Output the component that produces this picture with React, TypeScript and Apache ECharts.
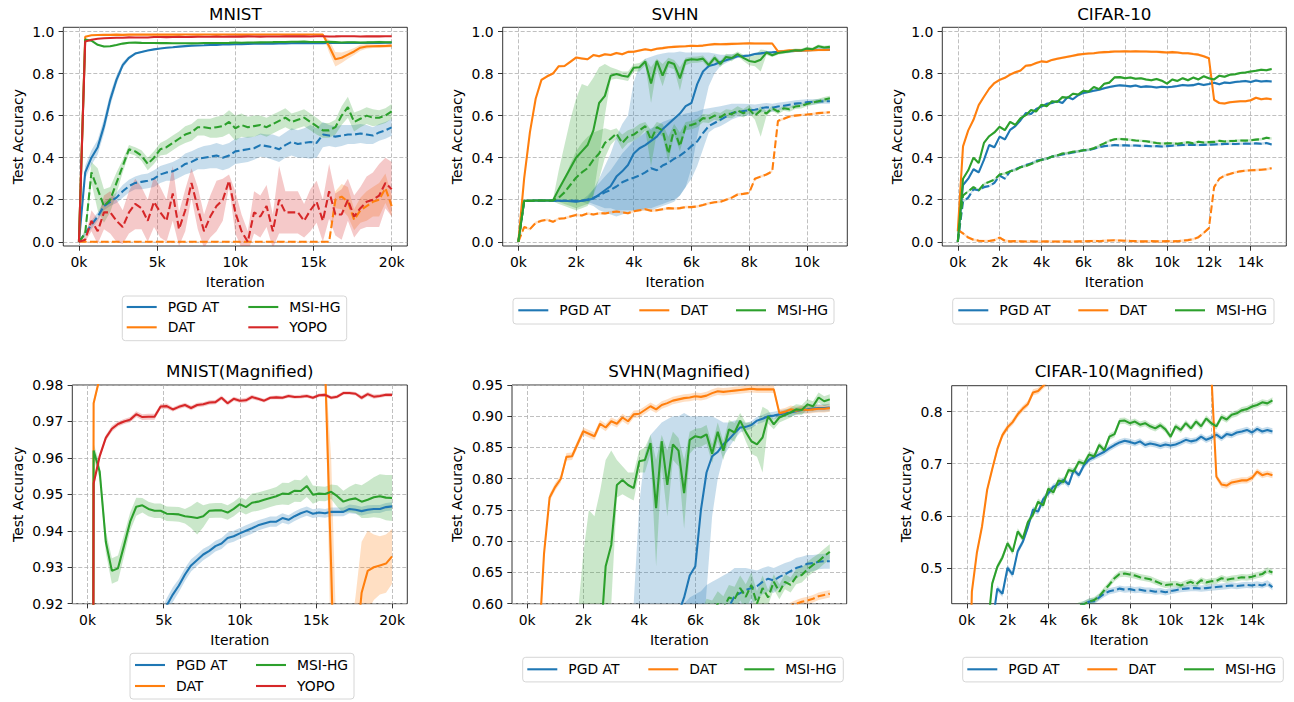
import React, { useEffect, useRef } from 'react';
import * as echarts from 'echarts';

const FONT = 'DejaVu Sans';
const COLORS: Record<string, string> = { pgd: '#1f77b4', dat: '#ff7f0e', msi: '#2ca02c', yopo: '#d62728' };
const METHOD_NAMES: Record<string, string> = { pgd: 'PGD AT', dat: 'DAT', msi: 'MSI-HG', yopo: 'YOPO' };

// ---------------- MNIST (evaluated every 400 iterations) ----------------
const MNIST_ITER = Array.from({ length: 51 }, (_, i) => i * 400);
const MNIST_PGD = [0, 0.33, 0.40, 0.45, 0.55, 0.675, 0.77, 0.84, 0.875, 0.895,
  0.903, 0.91, 0.915, 0.9195, 0.9225, 0.925, 0.928, 0.9305, 0.932, 0.9335,
  0.9345, 0.9358, 0.9365, 0.938, 0.9385, 0.9393, 0.94, 0.9407, 0.9415, 0.942,
  0.9425, 0.9425, 0.9435, 0.943, 0.944, 0.9448, 0.9454, 0.9447, 0.945, 0.9448,
  0.9452, 0.9452, 0.9452, 0.946, 0.9458, 0.9454, 0.9458, 0.946, 0.946, 0.9465,
  0.9467];
const MNIST_PGD_SD = [0, 0.03, 0.035, 0.035, 0.035, 0.03, 0.022, 0.014, 0.008, 0.005,
  0.004, 0.003, 0.0025, 0.002, 0.002, 0.0018, 0.0018, 0.0017, 0.0016, 0.0016,
  0.0015, 0.0015, 0.0015, 0.0015, 0.0015, 0.0015, 0.0015, 0.0015, 0.0014, 0.0014,
  0.0014, 0.0014, 0.0013, 0.0013, 0.0013, 0.0013, 0.0013, 0.0012, 0.0012, 0.0012,
  0.0012, 0.0012, 0.0012, 0.0012, 0.0012, 0.0012, 0.0012, 0.0011, 0.0011, 0.0011,
  0.0011];
const MNIST_PGD_ADV = [0, 0.04, 0.08, 0.12, 0.17, 0.19, 0.21, 0.24, 0.265, 0.28,
  0.285, 0.29, 0.30, 0.32, 0.33, 0.335, 0.35, 0.37, 0.38, 0.395,
  0.40, 0.405, 0.41, 0.40, 0.41, 0.43, 0.435, 0.44, 0.445, 0.46,
  0.455, 0.45, 0.44, 0.46, 0.475, 0.465, 0.47, 0.475, 0.47, 0.51,
  0.505, 0.50, 0.505, 0.51, 0.51, 0.515, 0.51, 0.505, 0.52, 0.53,
  0.544];
const MNIST_PGD_ADV_SD = [0, 0.01, 0.02, 0.02, 0.02, 0.02, 0.025, 0.03, 0.03, 0.03,
  0.035, 0.035, 0.04, 0.04, 0.04, 0.045, 0.045, 0.05, 0.05, 0.05,
  0.055, 0.055, 0.06, 0.06, 0.06, 0.06, 0.06, 0.06, 0.055, 0.055,
  0.055, 0.06, 0.06, 0.06, 0.065, 0.065, 0.07, 0.08, 0.07, 0.06,
  0.05, 0.05, 0.05, 0.045, 0.045, 0.045, 0.045, 0.04, 0.04, 0.04,
  0.04];
const MNIST_DAT = [0, 0.975, 0.982, 0.983, 0.984, 0.984, 0.985, 0.984, 0.985, 0.985,
  0.985, 0.986, 0.985, 0.985, 0.986, 0.985, 0.985, 0.986, 0.986, 0.985,
  0.986, 0.986, 0.985, 0.986, 0.986, 0.986, 0.985, 0.986, 0.986, 0.986,
  0.986, 0.986, 0.986, 0.986, 0.986, 0.986, 0.986, 0.986, 0.986, 0.985,
  0.93, 0.868, 0.875, 0.89, 0.905, 0.923, 0.929, 0.93, 0.9305, 0.931,
  0.933];
const MNIST_DAT_SD = [0, 0.001, 0.001, 0.001, 0.001, 0.001, 0.001, 0.001, 0.001, 0.001,
  0.001, 0.001, 0.001, 0.001, 0.001, 0.001, 0.001, 0.001, 0.001, 0.001,
  0.001, 0.001, 0.001, 0.001, 0.001, 0.001, 0.001, 0.001, 0.001, 0.001,
  0.001, 0.001, 0.001, 0.001, 0.001, 0.001, 0.001, 0.001, 0.001, 0.001,
  0.03, 0.035, 0.025, 0.02, 0.017, 0.014, 0.011, 0.009, 0.008, 0.008,
  0.0075];
const MNIST_DAT_ADV = [0, 0, 0, 0, 0, 0, 0, 0, 0, 0,
  0, 0, 0, 0, 0, 0, 0, 0, 0, 0,
  0, 0, 0, 0, 0, 0, 0, 0, 0, 0,
  0, 0, 0, 0, 0, 0, 0, 0, 0, 0,
  0, 0.20, 0.215, 0.19, 0.105, 0.15, 0.17, 0.19, 0.20, 0.255,
  0.17];
const MNIST_DAT_ADV_SD = [0, 0.002, 0.002, 0.002, 0.002, 0.002, 0.002, 0.002, 0.002, 0.002,
  0.002, 0.002, 0.002, 0.002, 0.002, 0.002, 0.002, 0.002, 0.002, 0.002,
  0.002, 0.002, 0.002, 0.002, 0.002, 0.002, 0.002, 0.002, 0.002, 0.002,
  0.002, 0.002, 0.002, 0.002, 0.002, 0.002, 0.002, 0.002, 0.002, 0.002,
  0.002, 0.04, 0.06, 0.07, 0.05, 0.06, 0.07, 0.07, 0.08, 0.07,
  0.05];
const MNIST_MSI = [0, 0.962, 0.9562, 0.937, 0.929, 0.9297, 0.936, 0.9425, 0.9466, 0.947,
  0.946, 0.9455, 0.9455, 0.9447, 0.9446, 0.9445, 0.944, 0.9438, 0.9435, 0.944,
  0.9455, 0.9456, 0.9456, 0.945, 0.946, 0.9473, 0.9465, 0.9477, 0.948, 0.9485,
  0.949, 0.9495, 0.9502, 0.9501, 0.951, 0.9509, 0.9523, 0.9499, 0.9502, 0.9501,
  0.9507, 0.9495, 0.948, 0.9486, 0.9489, 0.948, 0.9485, 0.9492, 0.9495, 0.9491,
  0.949];
const MNIST_MSI_SD = [0, 0.002, 0.002, 0.003, 0.0035, 0.0035, 0.003, 0.0025, 0.0025, 0.002,
  0.002, 0.002, 0.002, 0.002, 0.002, 0.002, 0.002, 0.003, 0.0045, 0.003,
  0.002, 0.002, 0.002, 0.002, 0.002, 0.002, 0.002, 0.0025, 0.0025, 0.0025,
  0.0025, 0.0025, 0.003, 0.003, 0.003, 0.003, 0.003, 0.0025, 0.002, 0.002,
  0.002, 0.003, 0.003, 0.0035, 0.004, 0.0045, 0.005, 0.0055, 0.006, 0.0062,
  0.0063];
const MNIST_MSI_ADV = [0, 0.04, 0.33, 0.25, 0.17, 0.20, 0.28, 0.36, 0.44, 0.43,
  0.41, 0.37, 0.40, 0.44, 0.45, 0.47, 0.49, 0.51, 0.52, 0.545,
  0.545, 0.54, 0.545, 0.55, 0.57, 0.54, 0.555, 0.545, 0.55, 0.555,
  0.545, 0.56, 0.575, 0.59, 0.57, 0.58, 0.59, 0.57, 0.55, 0.53,
  0.53, 0.545, 0.60, 0.64, 0.57, 0.585, 0.60, 0.59, 0.59, 0.60,
  0.62];
const MNIST_MSI_ADV_SD = [0, 0.02, 0.05, 0.1, 0.08, 0.06, 0.05, 0.03, 0.02, 0.02,
  0.025, 0.03, 0.03, 0.03, 0.035, 0.035, 0.035, 0.04, 0.04, 0.04,
  0.04, 0.045, 0.05, 0.05, 0.055, 0.06, 0.055, 0.05, 0.05, 0.045,
  0.045, 0.045, 0.045, 0.045, 0.04, 0.04, 0.04, 0.04, 0.04, 0.035,
  0.035, 0.035, 0.045, 0.05, 0.045, 0.04, 0.04, 0.04, 0.035, 0.035,
  0.035];
const MNIST_YOPO = [0, 0.953, 0.9605, 0.9655, 0.968, 0.9693, 0.970, 0.9705, 0.972, 0.9712,
  0.9713, 0.9713, 0.9741, 0.9742, 0.9733, 0.974, 0.9745, 0.9737, 0.9745, 0.9747,
  0.9752, 0.9753, 0.9765, 0.975, 0.9762, 0.9757, 0.9758, 0.9767, 0.9762, 0.9757,
  0.9765, 0.9766, 0.9765, 0.977, 0.9767, 0.9768, 0.977, 0.9765, 0.9772, 0.9773,
  0.9765, 0.9768, 0.9778, 0.9778, 0.9776, 0.9765, 0.9775, 0.9768, 0.977, 0.9773,
  0.9773];
const MNIST_YOPO_SD = [0, 0.0012, 0.0009, 0.0008, 0.0008, 0.0007, 0.0007, 0.0007, 0.0008, 0.0008,
  0.0008, 0.0008, 0.0007, 0.0007, 0.0006, 0.0006, 0.0006, 0.0006, 0.0006, 0.0006,
  0.0006, 0.0006, 0.0006, 0.0006, 0.0006, 0.0006, 0.0006, 0.0006, 0.0005, 0.0005,
  0.0005, 0.0005, 0.0005, 0.0005, 0.0005, 0.0005, 0.0005, 0.0005, 0.0005, 0.0005,
  0.0005, 0.0005, 0.0005, 0.0005, 0.0005, 0.0006, 0.0006, 0.0006, 0.0005, 0.0005,
  0.0005];
const MNIST_YOPO_ADV = [0, 0.01, 0.10, 0.05, 0.14, 0.14, 0.10, 0.07, 0.14, 0.18,
  0.16, 0.10, 0.19, 0.14, 0.10, 0.23, 0.06, 0.15, 0.28, 0.16,
  0.05, 0.12, 0.17, 0.20, 0.29, 0.14, 0.05, 0.0, 0.14, 0.12,
  0.17, 0.05, 0.20, 0.14, 0.14, 0.14, 0.10, 0.15, 0.19, 0.10,
  0.24, 0.13, 0.13, 0.20, 0.12, 0.16, 0.19, 0.20, 0.22, 0.28,
  0.25];
const MNIST_YOPO_ADV_SD = [0, 0.01, 0.05, 0.06, 0.08, 0.1, 0.1, 0.08, 0.1, 0.12,
  0.1, 0.1, 0.12, 0.12, 0.1, 0.13, 0.08, 0.1, 0.07, 0.1,
  0.08, 0.1, 0.12, 0.1, 0.03, 0.1, 0.08, 0.05, 0.1, 0.1,
  0.1, 0.08, 0.16, 0.1, 0.1, 0.1, 0.08, 0.1, 0.1, 0.1,
  0.13, 0.1, 0.12, 0.1, 0.1, 0.1, 0.12, 0.13, 0.15, 0.12,
  0.13];

// ---------------- SVHN (evaluated every 200 iterations) ----------------
const SVHN_ITER = Array.from({ length: 55 }, (_, i) => i * 200);
const SVHN_PGD = [0, 0.195, 0.195, 0.196, 0.196, 0.196, 0.196, 0.195, 0.195, 0.193,
  0.19, 0.195, 0.20, 0.205, 0.225, 0.245, 0.265, 0.31, 0.335, 0.365,
  0.42, 0.445, 0.46, 0.48, 0.50, 0.535, 0.56, 0.585, 0.61, 0.645,
  0.66, 0.75, 0.81, 0.836, 0.843, 0.855, 0.863, 0.873, 0.882, 0.883,
  0.886, 0.893, 0.896, 0.90, 0.901, 0.903, 0.905, 0.906, 0.908, 0.91,
  0.911, 0.9125, 0.913, 0.913, 0.914];
const SVHN_PGD_DN = [0, 0.004, 0.004, 0.004, 0.004, 0.004, 0.004, 0.004, 0.004, 0.004,
  0.004, 0.004, 0.02, 0.035, 0.075, 0.105, 0.135, 0.19, 0.205, 0.225,
  0.27, 0.295, 0.31, 0.33, 0.34, 0.365, 0.38, 0.395, 0.39, 0.385,
  0.31, 0.25, 0.19, 0.096, 0.043, 0.02, 0.013, 0.01, 0.008, 0.006,
  0.006, 0.006, 0.006, 0.006, 0.006, 0.006, 0.006, 0.006, 0.006, 0.006,
  0.006, 0.006, 0.006, 0.006, 0.006];
const SVHN_PGD_UP = [0, 0.004, 0.004, 0.004, 0.004, 0.004, 0.004, 0.004, 0.004, 0.004,
  0.004, 0.004, 0.02, 0.045, 0.075, 0.115, 0.155, 0.19, 0.225, 0.235,
  0.34, 0.395, 0.41, 0.40, 0.39, 0.36, 0.34, 0.315, 0.295, 0.255,
  0.24, 0.15, 0.09, 0.064, 0.052, 0.035, 0.027, 0.02, 0.012, 0.006,
  0.006, 0.006, 0.006, 0.006, 0.006, 0.006, 0.006, 0.006, 0.006, 0.006,
  0.006, 0.006, 0.006, 0.006, 0.006];
const SVHN_PGD_ADV = [0, 0.195, 0.194, 0.195, 0.196, 0.195, 0.195, 0.194, 0.195, 0.196,
  0.195, 0.195, 0.20, 0.21, 0.22, 0.235, 0.247, 0.263, 0.283, 0.295,
  0.305, 0.315, 0.33, 0.35, 0.34, 0.363, 0.375, 0.395, 0.41, 0.43,
  0.455, 0.477, 0.517, 0.55, 0.565, 0.58, 0.595, 0.612, 0.617, 0.622,
  0.625, 0.628, 0.635, 0.64, 0.637, 0.643, 0.647, 0.652, 0.657, 0.66,
  0.664, 0.665, 0.667, 0.668, 0.668];
const SVHN_PGD_ADV_DN = [0, 0.004, 0.004, 0.004, 0.004, 0.004, 0.004, 0.004, 0.004, 0.004,
  0.004, 0.004, 0.01, 0.03, 0.05, 0.075, 0.087, 0.113, 0.133, 0.145,
  0.155, 0.165, 0.17, 0.19, 0.17, 0.183, 0.185, 0.195, 0.19, 0.17,
  0.155, 0.117, 0.077, 0.03, 0.025, 0.03, 0.03, 0.03, 0.025, 0.025,
  0.025, 0.022, 0.02, 0.02, 0.02, 0.018, 0.018, 0.016, 0.016, 0.015,
  0.014, 0.013, 0.012, 0.012, 0.012];
const SVHN_PGD_ADV_UP = [0, 0.004, 0.004, 0.004, 0.004, 0.004, 0.004, 0.004, 0.004, 0.004,
  0.004, 0.004, 0.01, 0.04, 0.06, 0.075, 0.093, 0.117, 0.137, 0.155,
  0.175, 0.185, 0.19, 0.19, 0.21, 0.207, 0.205, 0.195, 0.19, 0.18,
  0.16, 0.143, 0.113, 0.085, 0.075, 0.065, 0.055, 0.045, 0.04, 0.035,
  0.03, 0.025, 0.022, 0.02, 0.02, 0.018, 0.018, 0.016, 0.016, 0.015,
  0.014, 0.013, 0.012, 0.012, 0.012];
const SVHN_DAT = [0, 0.30, 0.52, 0.68, 0.77, 0.787, 0.80, 0.835, 0.836, 0.856,
  0.876, 0.872, 0.868, 0.888, 0.882, 0.892, 0.888, 0.898, 0.892, 0.903,
  0.904, 0.91, 0.916, 0.911, 0.918, 0.921, 0.925, 0.927, 0.929, 0.93,
  0.932, 0.931, 0.933, 0.937, 0.94, 0.939, 0.94, 0.941, 0.942, 0.943,
  0.944, 0.943, 0.943, 0.943, 0.943, 0.905, 0.907, 0.911, 0.909, 0.911,
  0.91, 0.911, 0.912, 0.912, 0.913];
const SVHN_DAT_ADV = [0, 0.07, 0.06, 0.09, 0.10, 0.105, 0.095, 0.11, 0.112, 0.12,
  0.128, 0.125, 0.135, 0.13, 0.136, 0.135, 0.14, 0.144, 0.14, 0.136,
  0.145, 0.15, 0.155, 0.148, 0.15, 0.155, 0.16, 0.158, 0.16, 0.165,
  0.165, 0.168, 0.175, 0.183, 0.188, 0.19, 0.20, 0.21, 0.225, 0.228,
  0.232, 0.30, 0.31, 0.32, 0.335, 0.575, 0.585, 0.596, 0.60, 0.603,
  0.605, 0.608, 0.612, 0.614, 0.616];
const SVHN_DAT_BAND = 0.006;
const SVHN_MSI = [0, 0.195, 0.195, 0.196, 0.196, 0.196, 0.197, 0.25, 0.30, 0.35,
  0.40, 0.43, 0.46, 0.53, 0.66, 0.694, 0.79, 0.798, 0.79, 0.785,
  0.828, 0.83, 0.857, 0.753, 0.86, 0.79, 0.855, 0.845, 0.777, 0.862,
  0.868, 0.866, 0.871, 0.84, 0.875, 0.845, 0.879, 0.874, 0.893, 0.875,
  0.86, 0.855, 0.866, 0.90, 0.887, 0.898, 0.902, 0.906, 0.911, 0.91,
  0.919, 0.916, 0.93, 0.924, 0.927];
const SVHN_MSI_DN = [0, 0.004, 0.004, 0.004, 0.004, 0.004, 0.004, 0.07, 0.13, 0.19,
  0.25, 0.27, 0.29, 0.31, 0.26, 0.094, 0.02, 0.023, 0.02, 0.02,
  0.018, 0.02, 0.017, 0.093, 0.04, 0.05, 0.025, 0.025, 0.057, 0.022,
  0.018, 0.015, 0.015, 0.015, 0.015, 0.015, 0.015, 0.015, 0.01, 0.015,
  0.02, 0.02, 0.056, 0.012, 0.008, 0.008, 0.008, 0.008, 0.008, 0.008,
  0.008, 0.008, 0.008, 0.008, 0.008];
const SVHN_MSI_UP = [0, 0.004, 0.004, 0.004, 0.004, 0.004, 0.004, 0.09, 0.16, 0.23,
  0.28, 0.32, 0.28, 0.25, 0.17, 0.151, 0.04, 0.022, 0.02, 0.025,
  0.017, 0.02, 0.013, 0.077, 0.01, 0.055, 0.02, 0.02, 0.053, 0.013,
  0.012, 0.015, 0.015, 0.015, 0.015, 0.015, 0.015, 0.015, 0.012, 0.015,
  0.03, 0.03, 0.049, 0.01, 0.008, 0.008, 0.008, 0.008, 0.008, 0.008,
  0.008, 0.008, 0.008, 0.008, 0.008];
const SVHN_MSI_ADV = [0, 0.195, 0.195, 0.196, 0.196, 0.196, 0.196, 0.21, 0.235, 0.27,
  0.305, 0.33, 0.35, 0.39, 0.42, 0.47, 0.49, 0.515, 0.47, 0.50,
  0.51, 0.53, 0.55, 0.485, 0.545, 0.53, 0.42, 0.535, 0.455, 0.55,
  0.555, 0.565, 0.588, 0.585, 0.60, 0.592, 0.61, 0.607, 0.625, 0.611,
  0.63, 0.60, 0.625, 0.61, 0.635, 0.619, 0.635, 0.63, 0.643, 0.646,
  0.655, 0.662, 0.668, 0.676, 0.683];
const SVHN_MSI_ADV_DN = [0, 0.004, 0.004, 0.004, 0.004, 0.004, 0.004, 0.02, 0.055, 0.10,
  0.145, 0.16, 0.17, 0.17, 0.12, 0.07, 0.03, 0.025, 0.03, 0.03,
  0.03, 0.03, 0.02, 0.125, 0.025, 0.03, 0.04, 0.025, 0.025, 0.02,
  0.02, 0.02, 0.02, 0.02, 0.02, 0.02, 0.02, 0.02, 0.02, 0.02,
  0.02, 0.02, 0.125, 0.012, 0.012, 0.012, 0.012, 0.012, 0.012, 0.012,
  0.012, 0.012, 0.012, 0.012, 0.012];
const SVHN_MSI_ADV_UP = [0, 0.004, 0.004, 0.004, 0.004, 0.004, 0.004, 0.03, 0.065, 0.10,
  0.125, 0.14, 0.15, 0.13, 0.11, 0.07, 0.04, 0.025, 0.04, 0.03,
  0.03, 0.03, 0.02, 0.045, 0.025, 0.03, 0.08, 0.025, 0.065, 0.02,
  0.02, 0.02, 0.02, 0.02, 0.02, 0.02, 0.02, 0.02, 0.02, 0.02,
  0.02, 0.02, 0.02, 0.012, 0.012, 0.012, 0.012, 0.012, 0.012, 0.012,
  0.012, 0.012, 0.012, 0.012, 0.012];

// ---------------- CIFAR-10 (evaluated every 250 iterations) ----------------
const CIFAR_ITER = Array.from({ length: 61 }, (_, i) => i * 250);
const CIFAR_PGD = [0, 0.27, 0.30, 0.345, 0.33, 0.39, 0.46, 0.45, 0.50, 0.487,
  0.532, 0.55, 0.578, 0.612, 0.608, 0.632, 0.643, 0.656, 0.66, 0.669,
  0.66, 0.688, 0.678, 0.697, 0.708, 0.713, 0.718, 0.723, 0.73, 0.736,
  0.741, 0.744, 0.742, 0.739, 0.743, 0.736, 0.739, 0.737, 0.734, 0.737,
  0.735, 0.737, 0.741, 0.746, 0.743, 0.745, 0.752, 0.746, 0.75, 0.756,
  0.749, 0.757, 0.755, 0.76, 0.762, 0.765, 0.76, 0.767, 0.762, 0.765,
  0.762];
const CIFAR_PGD_ADV = [0, 0.19, 0.21, 0.25, 0.245, 0.26, 0.265, 0.28, 0.315, 0.30,
  0.335, 0.345, 0.355, 0.365, 0.372, 0.385, 0.39, 0.395, 0.405, 0.41,
  0.415, 0.42, 0.425, 0.43, 0.435, 0.436, 0.443, 0.45, 0.455, 0.457,
  0.46, 0.458, 0.459, 0.457, 0.458, 0.456, 0.456, 0.454, 0.455, 0.453,
  0.455, 0.457, 0.459, 0.46, 0.461, 0.461, 0.46, 0.461, 0.462, 0.463,
  0.464, 0.465, 0.466, 0.465, 0.466, 0.467, 0.466, 0.468, 0.466, 0.47,
  0.463];
const CIFAR_DAT = [0.05, 0.454, 0.53, 0.58, 0.65, 0.69, 0.728, 0.755, 0.77, 0.78,
  0.795, 0.806, 0.815, 0.837, 0.84, 0.85, 0.858, 0.855, 0.865, 0.87,
  0.875, 0.88, 0.885, 0.89, 0.893, 0.895, 0.897, 0.9, 0.902, 0.903,
  0.905, 0.905, 0.906, 0.905, 0.906, 0.905, 0.905, 0.904, 0.904, 0.902,
  0.9, 0.902, 0.9, 0.897, 0.897, 0.893, 0.89, 0.882, 0.873, 0.675,
  0.66, 0.658, 0.664, 0.666, 0.668, 0.668, 0.673, 0.685, 0.678, 0.681,
  0.678];
const CIFAR_DAT_ADV = [0.057, 0.04, 0.02, 0.01, 0.005, 0.004, 0.004, 0.008, 0.02, 0.005,
  0.002, 0.003, 0.002, 0.001, 0.002, 0.001, 0.001, 0.002, 0.001, 0.001,
  0.002, 0.001, 0.001, 0.002, 0.002, 0.003, 0.004, 0.003, 0.005, 0.006,
  0.007, 0.006, 0.005, 0.004, 0.003, 0.002, 0.002, 0.003, 0.002, 0.002,
  0.003, 0.002, 0.003, 0.005, 0.008, 0.012, 0.022, 0.042, 0.065, 0.26,
  0.30, 0.315, 0.322, 0.33, 0.335, 0.338, 0.34, 0.341, 0.343, 0.345,
  0.35];
const CIFAR_MSI = [0, 0.30, 0.34, 0.40, 0.375, 0.47, 0.502, 0.52, 0.547, 0.531,
  0.57, 0.556, 0.588, 0.602, 0.627, 0.62, 0.652, 0.645, 0.668, 0.665,
  0.688, 0.685, 0.704, 0.70, 0.718, 0.714, 0.736, 0.726, 0.752, 0.757,
  0.782, 0.783, 0.778, 0.781, 0.775, 0.778, 0.772, 0.768, 0.774, 0.766,
  0.752, 0.772, 0.765, 0.778, 0.768, 0.781, 0.772, 0.787, 0.778, 0.772,
  0.79, 0.785, 0.794, 0.797, 0.803, 0.805, 0.81, 0.813, 0.818, 0.816,
  0.822];
const CIFAR_MSI_ADV = [0, 0.22, 0.24, 0.26, 0.245, 0.275, 0.285, 0.295, 0.32, 0.325,
  0.335, 0.34, 0.355, 0.36, 0.37, 0.38, 0.39, 0.395, 0.405, 0.41,
  0.42, 0.422, 0.428, 0.43, 0.435, 0.438, 0.445, 0.457, 0.468, 0.48,
  0.488, 0.489, 0.487, 0.485, 0.482, 0.48, 0.478, 0.474, 0.47, 0.467,
  0.468, 0.469, 0.466, 0.47, 0.473, 0.468, 0.476, 0.472, 0.474, 0.475,
  0.48, 0.477, 0.479, 0.48, 0.482, 0.481, 0.483, 0.486, 0.488, 0.495,
  0.491];
const CIFAR_BAND = 0.006;

// ---------------- axes ----------------
const MNIST_XTICKS = [0, 5000, 10000, 15000, 20000];
const SVHN_XTICKS = [0, 2000, 4000, 6000, 8000, 10000];
const CIFAR_XTICKS = [0, 2000, 4000, 6000, 8000, 10000, 12000, 14000];
const FULL_YTICKS = [0, 0.2, 0.4, 0.6, 0.8, 1.0];
const MNIST_MAG_YTICKS = [0.92, 0.93, 0.94, 0.95, 0.96, 0.97, 0.98];
const SVHN_MAG_YTICKS = [0.60, 0.65, 0.70, 0.75, 0.80, 0.85, 0.90, 0.95];
const CIFAR_MAG_YTICKS = [0.5, 0.6, 0.7, 0.8];

type Band = number[] | number;
type Curve = { key: string; dashed: boolean; mean: number[]; dn: Band; up: Band };
type Dataset = { iter: number[]; curves: Curve[] };

const MNIST: Dataset = {
  iter: MNIST_ITER,
  curves: [
    { key: 'pgd', dashed: false, mean: MNIST_PGD, dn: MNIST_PGD_SD, up: MNIST_PGD_SD },
    { key: 'pgd', dashed: true, mean: MNIST_PGD_ADV, dn: MNIST_PGD_ADV_SD, up: MNIST_PGD_ADV_SD },
    { key: 'dat', dashed: false, mean: MNIST_DAT, dn: MNIST_DAT_SD, up: MNIST_DAT_SD },
    { key: 'dat', dashed: true, mean: MNIST_DAT_ADV, dn: MNIST_DAT_ADV_SD, up: MNIST_DAT_ADV_SD },
    { key: 'msi', dashed: false, mean: MNIST_MSI, dn: MNIST_MSI_SD, up: MNIST_MSI_SD },
    { key: 'msi', dashed: true, mean: MNIST_MSI_ADV, dn: MNIST_MSI_ADV_SD, up: MNIST_MSI_ADV_SD },
    { key: 'yopo', dashed: false, mean: MNIST_YOPO, dn: MNIST_YOPO_SD, up: MNIST_YOPO_SD },
    { key: 'yopo', dashed: true, mean: MNIST_YOPO_ADV, dn: MNIST_YOPO_ADV_SD, up: MNIST_YOPO_ADV_SD },
  ],
};
const SVHN: Dataset = {
  iter: SVHN_ITER,
  curves: [
    { key: 'pgd', dashed: false, mean: SVHN_PGD, dn: SVHN_PGD_DN, up: SVHN_PGD_UP },
    { key: 'pgd', dashed: true, mean: SVHN_PGD_ADV, dn: SVHN_PGD_ADV_DN, up: SVHN_PGD_ADV_UP },
    { key: 'dat', dashed: false, mean: SVHN_DAT, dn: SVHN_DAT_BAND, up: SVHN_DAT_BAND },
    { key: 'dat', dashed: true, mean: SVHN_DAT_ADV, dn: SVHN_DAT_BAND, up: SVHN_DAT_BAND },
    { key: 'msi', dashed: false, mean: SVHN_MSI, dn: SVHN_MSI_DN, up: SVHN_MSI_UP },
    { key: 'msi', dashed: true, mean: SVHN_MSI_ADV, dn: SVHN_MSI_ADV_DN, up: SVHN_MSI_ADV_UP },
  ],
};
const CIFAR: Dataset = {
  iter: CIFAR_ITER,
  curves: [
    { key: 'pgd', dashed: false, mean: CIFAR_PGD, dn: CIFAR_BAND, up: CIFAR_BAND },
    { key: 'pgd', dashed: true, mean: CIFAR_PGD_ADV, dn: CIFAR_BAND, up: CIFAR_BAND },
    { key: 'dat', dashed: false, mean: CIFAR_DAT, dn: CIFAR_BAND, up: CIFAR_BAND },
    { key: 'dat', dashed: true, mean: CIFAR_DAT_ADV, dn: CIFAR_BAND, up: CIFAR_BAND },
    { key: 'msi', dashed: false, mean: CIFAR_MSI, dn: CIFAR_BAND, up: CIFAR_BAND },
    { key: 'msi', dashed: true, mean: CIFAR_MSI_ADV, dn: CIFAR_BAND, up: CIFAR_BAND },
  ],
};

type LegendItem = { key: string; x: number; y: number };
type Panel = {
  title: string; titleX: number; titleY: number;
  left: number; top: number; width: number; height: number;
  xRange: [number, number]; xTicks: number[];
  yRange: [number, number]; yTicks: number[]; yDec: number; yGap: number;
  data: Dataset;
  box: [number, number, number, number];
  items: LegendItem[];
};

const PANELS: Panel[] = [
  {
    title: 'MNIST', titleX: 235.3, titleY: 13.5, left: 63.3, top: 27.3, width: 344, height: 218.7,
    xRange: [-1000, 21000], xTicks: MNIST_XTICKS, yRange: [-0.02, 1.02], yTicks: FULL_YTICKS, yDec: 1, yGap: 38,
    data: MNIST, box: [122.3, 296, 224.4, 44.7],
    items: [{ key: 'pgd', x: 126.7, y: 307 }, { key: 'dat', x: 126.7, y: 327.3 }, { key: 'msi', x: 248.3, y: 307 }, { key: 'yopo', x: 248.3, y: 327.3 }],
  },
  {
    title: 'SVHN', titleX: 675, titleY: 13.5, left: 502.7, top: 27.3, width: 344.6, height: 218.7,
    xRange: [-543, 11403], xTicks: SVHN_XTICKS, yRange: [-0.02, 1.02], yTicks: FULL_YTICKS, yDec: 1, yGap: 39,
    data: SVHN, box: [513, 298.3, 321, 25.7],
    items: [{ key: 'pgd', x: 518.3, y: 310.3 }, { key: 'dat', x: 639.3, y: 310.3 }, { key: 'msi', x: 736, y: 310.3 }],
  },
  {
    title: 'CIFAR-10', titleX: 1114.3, titleY: 13.5, left: 942.3, top: 27.3, width: 344, height: 218.7,
    xRange: [-740, 15700], xTicks: CIFAR_XTICKS, yRange: [-0.02, 1.02], yTicks: FULL_YTICKS, yDec: 1, yGap: 38.6,
    data: CIFAR, box: [952.7, 298.3, 321.3, 25.7],
    items: [{ key: 'pgd', x: 958.3, y: 310.3 }, { key: 'dat', x: 1078.3, y: 310.3 }, { key: 'msi', x: 1175, y: 310.3 }],
  },
  {
    title: 'MNIST(Magnified)', titleX: 239.8, titleY: 371, left: 72.3, top: 385, width: 335, height: 218.7,
    xRange: [-1000, 21000], xTicks: MNIST_XTICKS, yRange: [0.92, 0.98], yTicks: MNIST_MAG_YTICKS, yDec: 2, yGap: 47,
    data: MNIST, box: [130, 653.3, 224, 45.7],
    items: [{ key: 'pgd', x: 135, y: 665 }, { key: 'dat', x: 135, y: 686 }, { key: 'msi', x: 256, y: 665 }, { key: 'yopo', x: 256, y: 686 }],
  },
  {
    title: 'SVHN(Magnified)', titleX: 679.3, titleY: 371, left: 512, top: 385, width: 334.7, height: 218.7,
    xRange: [-543, 11403], xTicks: SVHN_XTICKS, yRange: [0.6, 0.95], yTicks: SVHN_MAG_YTICKS, yDec: 2, yGap: 48.3,
    data: SVHN, box: [522.7, 657.3, 320.6, 24.6],
    items: [{ key: 'pgd', x: 527.3, y: 669.3 }, { key: 'dat', x: 648.3, y: 669.3 }, { key: 'msi', x: 744.3, y: 669.3 }],
  },
  {
    title: 'CIFAR-10(Magnified)', titleX: 1119.2, titleY: 371, left: 951.7, top: 385.7, width: 335, height: 218,
    xRange: [-740, 15700], xTicks: CIFAR_XTICKS, yRange: [0.431, 0.85], yTicks: CIFAR_MAG_YTICKS, yDec: 1, yGap: 38.7,
    data: CIFAR, box: [962.7, 657.3, 320.6, 24.6],
    items: [{ key: 'pgd', x: 967.3, y: 669.3 }, { key: 'dat', x: 1087.3, y: 669.3 }, { key: 'msi', x: 1184, y: 669.3 }],
  },
];

const bandAt = (b: Band, i: number) => (typeof b === 'number' ? b : b[i]);

function hexToRgba(hex: string, a: number) {
  const n = parseInt(hex.slice(1), 16);
  return `rgba(${(n >> 16) & 255},${(n >> 8) & 255},${n & 255},${a})`;
}

function buildOption() {
  const grid: any[] = [], xAxis: any[] = [], yAxis: any[] = [], series: any[] = [];
  const title: any[] = [], legend: any[] = [], graphic: any[] = [];
  const txt = { fontFamily: FONT, fontSize: 13.9, color: '#000' };

  PANELS.forEach((p, gi) => {
    grid.push({ left: p.left, top: p.top, width: p.width, height: p.height, show: true, borderColor: '#000', borderWidth: 0.8, backgroundColor: 'transparent' });
    xAxis.push({
      type: 'value', gridIndex: gi, min: p.xRange[0], max: p.xRange[1],
      name: 'Iteration', nameLocation: 'middle', nameGap: 29.3, nameTextStyle: { ...txt, lineHeight: 14 },
      axisLine: { show: false, onZero: false },
      axisTick: { show: true, length: 4.7, lineStyle: { color: '#000', width: 0.8 }, customValues: p.xTicks },
      axisLabel: { ...txt, margin: 8.3, lineHeight: 16, customValues: p.xTicks, formatter: (v: number) => `${Math.round(v / 1000)}k` },
      splitLine: { show: true, lineStyle: { color: '#b0b0b0', width: 0.8, type: [4, 2] } },
    });
    yAxis.push({
      type: 'value', gridIndex: gi, min: p.yRange[0], max: p.yRange[1],
      name: 'Test Accuracy', nameLocation: 'middle', nameGap: p.yGap, nameTextStyle: { ...txt, lineHeight: 14 },
      axisLine: { show: false, onZero: false },
      axisTick: { show: true, length: 4.7, lineStyle: { color: '#000', width: 0.8 }, customValues: p.yTicks },
      axisLabel: { ...txt, margin: 9, customValues: p.yTicks, formatter: (v: number) => v.toFixed(p.yDec) },
      splitLine: { show: true, lineStyle: { color: '#b0b0b0', width: 0.8, type: [4, 2] } },
    });

    const it = p.data.iter;
    p.data.curves.forEach((c) => {
      const color = COLORS[c.key];
      const pts = it.map((x, i) => [x, c.mean[i] - bandAt(c.dn, i), c.mean[i] + bandAt(c.up, i)]);
      series.push({
        type: 'custom', name: `${METHOD_NAMES[c.key]} band`, xAxisIndex: gi, yAxisIndex: gi,
        silent: true, clip: true, z: 1, data: pts, encode: { x: 0, y: [1, 2] },
        renderItem: (params: any, api: any) => {
          if (params.dataIndex !== 0) return null;
          const upper = pts.map((d) => api.coord([d[0], d[2]]));
          const lower = pts.map((d) => api.coord([d[0], d[1]])).reverse();
          return { type: 'polygon', silent: true, shape: { points: upper.concat(lower) }, style: { fill: hexToRgba(color, 0.25), stroke: 'none' } };
        },
      });
    });
    p.data.curves.forEach((c) => {
      const color = COLORS[c.key];
      series.push({
        type: 'line', name: c.dashed ? `${METHOD_NAMES[c.key]} (dashed)` : METHOD_NAMES[c.key],
        xAxisIndex: gi, yAxisIndex: gi, symbol: 'none', clip: true, z: 3, silent: true,
        data: it.map((x, i) => [x, c.mean[i]]),
        lineStyle: { color, width: 2.08, type: c.dashed ? [7.7, 3.3] : 'solid' },
        itemStyle: { color },
      });
    });

    title.push({
      text: p.title, left: p.titleX, top: p.titleY, textAlign: 'center', textVerticalAlign: 'middle', padding: 0,
      textStyle: { fontFamily: FONT, fontSize: 16.7, fontWeight: 'normal', color: '#000' },
    });

    graphic.push({
      type: 'rect', z: 1, silent: true,
      shape: { x: p.box[0], y: p.box[1], width: p.box[2], height: p.box[3], r: 3 },
      style: { fill: 'rgba(255,255,255,0.8)', stroke: '#cccccc', lineWidth: 0.8 },
    });
    p.items.forEach((item) => {
      legend.push({
        show: true, left: item.x, top: item.y - 7, padding: 0, itemGap: 0,
        icon: 'rect', itemWidth: 30, itemHeight: 2.1,
        itemStyle: { color: COLORS[item.key], borderWidth: 0 },
        selectedMode: false, data: [METHOD_NAMES[item.key]],
        textStyle: { ...txt, lineHeight: 14, padding: [0, 0, 0, 6] },
      });
    });
  });

  return { animation: false, textStyle: { fontFamily: FONT }, grid, xAxis, yAxis, series, title, legend, graphic };
}

export default function App() {
  const ref = useRef<HTMLDivElement>(null);
  useEffect(() => {
    if (!ref.current) return;
    const chart = echarts.init(ref.current, null, { renderer: 'svg' });
    chart.setOption(buildOption() as any);
    return () => chart.dispose();
  }, []);
  return <div ref={ref} style={{ position: 'fixed', left: 0, top: 0, width: 1294, height: 702, background: '#fff' }} />;
}
